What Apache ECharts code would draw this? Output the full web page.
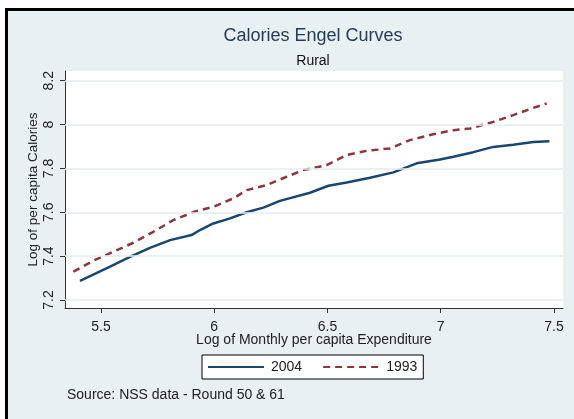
<!DOCTYPE html>
<html>
<head>
<meta charset="utf-8">
<script src="https://cdn.jsdelivr.net/npm/echarts@6/dist/echarts.min.js"></script>
<style>html,body{margin:0;padding:0;background:#fff}#c{width:574px;height:419px}</style>
</head>
<body>
<div id="c"></div>
<script>
const xTicks = [5.5, 6, 6.5, 7, 7.5];
const yTicks = [7.2, 7.4, 7.6, 7.8, 8, 8.2];
const x2004 = [5.407,5.540,5.628,5.716,5.805,5.900,5.937,5.996,6.070,6.143,6.217,6.290,6.423,6.504,6.585,6.688,6.791,6.894,6.997,7.056,7.144,7.232,7.320,7.409,7.480];
const y2004 = [7.287,7.352,7.397,7.438,7.473,7.496,7.519,7.549,7.572,7.600,7.621,7.652,7.689,7.721,7.736,7.757,7.782,7.823,7.841,7.853,7.874,7.898,7.908,7.920,7.924];
const x1993 = [5.378,5.466,5.554,5.643,5.731,5.819,5.908,5.996,6.084,6.143,6.232,6.320,6.393,6.496,6.585,6.673,6.776,6.864,6.967,7.056,7.130,7.232,7.320,7.409,7.468];
const y1993 = [7.329,7.379,7.420,7.461,7.511,7.564,7.601,7.625,7.663,7.701,7.724,7.762,7.792,7.815,7.861,7.880,7.891,7.929,7.956,7.974,7.982,8.012,8.043,8.076,8.096];

const chart = echarts.init(document.getElementById('c'));
const pairs = (xs, ys) => xs.map((x, i) => [x, ys[i]]);
const txt = '#222';
chart.setOption({
  backgroundColor: '#e8f0f2',
  animation: false,
  grid: {left: 65, right: 11, top: 71, bottom: 111, show: true, backgroundColor: '#ffffff', borderWidth: 0},
  xAxis: {
    type: 'value', min: 5.341, max: 7.54,
    name: 'Log of Monthly per capita Expenditure', nameLocation: 'middle', nameGap: 25, nameMoveOverlap: false,
    nameTextStyle: {fontFamily: 'Liberation Sans', fontSize: 14, color: txt},
    axisLine: {show: true, onZero: false, lineStyle: {color: '#333', width: 1}},
    axisTick: {show: true, length: 5, customValues: xTicks, lineStyle: {color: '#333'}},
    axisLabel: {customValues: xTicks, margin: 12, fontFamily: 'Liberation Sans', fontSize: 14, color: txt},
    splitLine: {show: false}
  },
  yAxis: {
    type: 'value', min: 7.1636, max: 8.244,
    name: 'Log of per capita Calories', nameLocation: 'middle', nameGap: 25, nameMoveOverlap: false,
    nameTextStyle: {fontFamily: 'Liberation Sans', fontSize: 13.5, color: txt},
    axisLine: {show: true, onZero: false, lineStyle: {color: '#333', width: 1}},
    axisTick: {show: true, length: 5, customValues: yTicks, lineStyle: {color: '#333'}},
    axisLabel: {customValues: yTicks, rotate: 90, margin: 9, fontFamily: 'Liberation Sans', fontSize: 14, color: txt},
    splitLine: {show: false}
  },
  legend: {
    data: ['2004', '1993'], left: 202, top: 355,
    orient: 'horizontal',
    padding: [5, 6, 5, 5], itemGap: 20, itemWidth: 56, itemHeight: 14,
    itemStyle: {opacity: 0},
    backgroundColor: '#ffffff', borderColor: '#000', borderWidth: 1, borderRadius: 0,
    textStyle: {fontFamily: 'Liberation Sans', fontSize: 14, color: txt, padding: [0, 0, 0, 2]}
  },
  graphic: [
    {type: 'rect', shape: {x: 0, y: 0, width: 574, height: 8}, style: {fill: '#fff'}, silent: true},
    {type: 'rect', shape: {x: 0, y: 0, width: 5, height: 419}, style: {fill: '#fff'}, silent: true},
    {type: 'rect', shape: {x: 5, y: 8, width: 569, height: 3}, style: {fill: '#000'}, silent: true},
    {type: 'rect', shape: {x: 5, y: 8, width: 3, height: 411}, style: {fill: '#000'}, silent: true},
    {type: 'text', style: {text: 'Calories Engel Curves', x: 313, y: 36, textAlign: 'center', textVerticalAlign: 'middle', fontFamily: 'Liberation Sans', fontSize: 18, fill: '#243b5a'}},
    {type: 'text', style: {text: 'Rural', x: 313, y: 61, textAlign: 'center', textVerticalAlign: 'middle', fontFamily: 'Liberation Sans', fontSize: 14, fill: '#111'}},
    {type: 'text', style: {text: 'Source: NSS data - Round 50 & 61', x: 67, y: 395, textAlign: 'left', textVerticalAlign: 'middle', fontFamily: 'Liberation Sans', fontSize: 14, fill: txt}}
  ],
  series: [
    {
      name: 'grid', type: 'line', data: [], silent: true, z: 1,
      markLine: {
        silent: true, symbol: ['none', 'none'], label: {show: false}, animation: false,
        lineStyle: {color: '#e3ecef', width: 1.5, type: 'solid'},
        data: yTicks.map(v => ({yAxis: v}))
      }
    },
    {
      name: '2004', type: 'line', data: pairs(x2004, y2004), symbol: 'none', smooth: false, z: 3,
      lineStyle: {color: '#1a476f', width: 2.5, type: 'solid'}, itemStyle: {color: '#1a476f'}
    },
    {
      name: '1993', type: 'line', data: pairs(x1993, y1993), symbol: 'none', smooth: false, z: 3,
      lineStyle: {color: '#90353b', width: 2.5, type: [7, 5]}, itemStyle: {color: '#90353b'}
    }
  ]
});
</script>
</body>
</html>
